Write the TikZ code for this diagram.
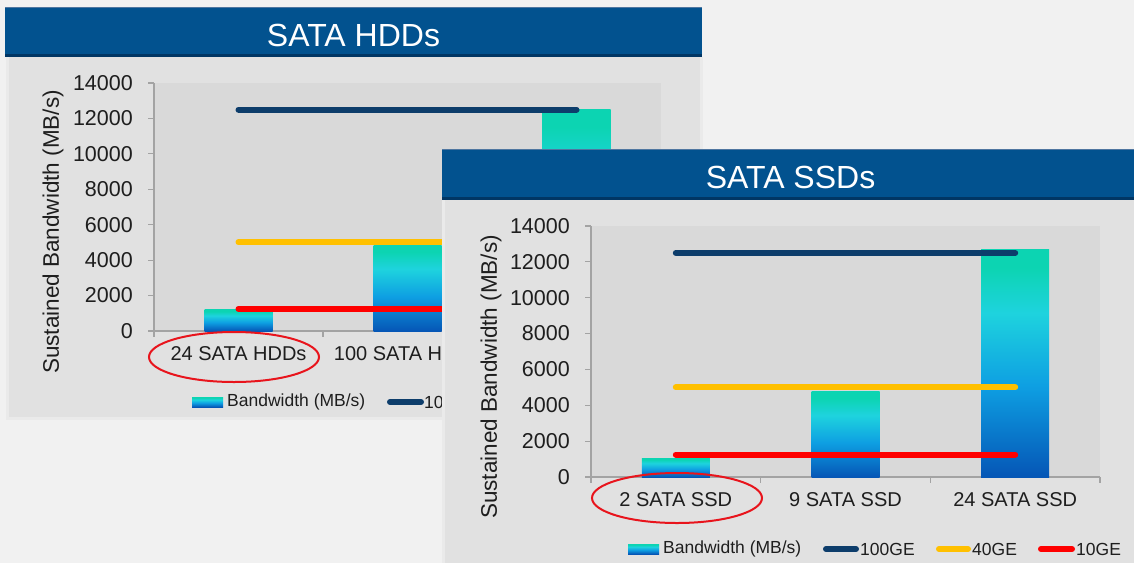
\documentclass[tikz,border=0pt]{standalone}
\usepackage{fontspec}
\setmainfont{Liberation Sans}

\definecolor{pagebg}{HTML}{F1F1F1}
\definecolor{panelbg}{HTML}{E1E1E1}
\definecolor{panelrim}{HTML}{EAEAEA}
\definecolor{plotbg}{HTML}{D9D9D9}
\definecolor{headblue}{HTML}{02528F}
\definecolor{headdark}{HTML}{013664}
\definecolor{headtop}{HTML}{4F76A0}
\definecolor{axisgray}{HTML}{A3A3A3}
\definecolor{txt}{HTML}{1E1E1E}
\definecolor{geA}{HTML}{0D3D6B}
\definecolor{geB}{HTML}{FFC000}
\definecolor{geC}{HTML}{FF0000}
\definecolor{barteal}{HTML}{0CD4B2}
\definecolor{barcyan}{HTML}{1ED3DE}
\definecolor{barmid}{HTML}{0E9FE2}
\definecolor{barblue}{HTML}{0556B6}
\definecolor{ringred}{HTML}{E8141C}

% bar gradient: deep blue at the foot, cyan, then teal at the top
\pgfdeclareverticalshading{bwbar}{100bp}{color(0bp)=(barblue); color(25bp)=(barblue); color(45bp)=(barmid); color(61bp)=(barcyan); color(71bp)=(barteal); color(100bp)=(barteal)}

\begin{document}
\begin{tikzpicture}[x=1pt, y=-1pt,
  every node/.style={inner sep=0pt, text=txt},
  ticklabel/.style={font=\fontsize{21.5}{26}\selectfont, anchor=east},
  catlabel/.style={font=\fontsize{20}{24}\selectfont},
  axistitle/.style={font=\fontsize{22.5}{27}\selectfont, rotate=90},
  legendtext/.style={font=\fontsize{17.5}{21}\selectfont, anchor=west},
  headtext/.style={font=\fontsize{32}{38}\selectfont, text=white},
  barfill/.style={shading=bwbar},
  axisline/.style={draw=axisgray, line width=1.2pt},
  geline/.style={line width=6pt, line cap=round},
  ring/.style={draw=ringred, line width=2pt},
]
\useasboundingbox (0,0) rectangle (1134,563);
\fill[pagebg] (0,0) rectangle (1134,563);

% ---------------- SATA HDDs panel ----------------
\fill[panelrim] (6,57) rectangle (703,420);
\fill[panelbg] (9,57) rectangle (700,417);
\fill[headblue] (5,7) rectangle (702,57);
\fill[headdark] (5,54) rectangle (702,57);
\draw[headtop, line width=1pt] (5,7.5) -- (702,7.5);
\node[headtext] (hddhead) at (353.5,35) {SATA HDDs};

\begin{scope}[shift={(154,331)}, x=1pt, y=0.017714pt]
  \fill[plotbg] (0,0) rectangle (507,14000);
  \draw[axisline] (0,0) -- (0,14000);
  \draw[axisline] (0,0) -- (507,0);
  \foreach \v in {0,2000,...,14000} {
    \draw[axisline] (-6,\v) -- (0,\v);
    \node[ticklabel] (hddtick\v) at (-21,\v) {\v};
  }
  \foreach \c in {0,169,338,507}
    \draw[axisline] (\c,0) -- ++(0pt,-6pt);
  \node[catlabel, yshift=-23pt] (hddcat1) at (84.5,0) {24 SATA HDDs};
  \node[catlabel, yshift=-23pt] (hddcat2) at (253.5,0) {100 SATA HDDs};
  \shade[barfill] (50.5,0) rectangle (118.5,1200);
  \shade[barfill] (219.5,0) rectangle (287.5,4850);
  \shade[barfill] (388.5,0) rectangle (456.5,12500);
  \draw[geline, geA] (84.5,12500) -- (422.5,12500);
  \draw[geline, geB] (84.5,5000) -- (422.5,5000);
  \draw[geline, geC] (84.5,1250) -- (422.5,1250);
\end{scope}
\node[axistitle] (hddtitle) at (53,232) {Sustained Bandwidth (MB/s)};
\draw[ring] (234,357) ellipse [x radius=85, y radius=25];

\shade[barfill] (192,397) rectangle (223,407);
\node[legendtext] (hddlegbw) at (227,402) {Bandwidth (MB/s)};
\draw[geline, geA] (390,402) -- (421,402);
\node[legendtext] (hddleg100) at (424,402) {100GE};

% ---------------- SATA SSDs panel ----------------
\fill[panelrim] (442,200) rectangle (1134,563);
\fill[panelbg] (445,200) rectangle (1134,563);
\fill[headblue] (442,149) rectangle (1134,200);
\fill[headdark] (442,197) rectangle (1134,200);
\draw[headtop, line width=1pt] (442,149.5) -- (1134,149.5);
\node[headtext] (ssdhead) at (790.5,177) {SATA SSDs};

\begin{scope}[shift={(591,477)}, x=1pt, y=0.017929pt]
  \fill[plotbg] (0,0) rectangle (509,14000);
  \draw[axisline] (0,0) -- (0,14000);
  \draw[axisline] (0,0) -- (509,0);
  \foreach \v in {0,2000,...,14000} {
    \draw[axisline] (-6,\v) -- (0,\v);
    \node[ticklabel] (ssdtick\v) at (-21,\v) {\v};
  }
  \foreach \c in {0,169.7,339.3,509}
    \draw[axisline] (\c,0) -- ++(0pt,-6pt);
  \node[catlabel, yshift=-23pt] (ssdcat1) at (84.8,0) {2 SATA SSD};
  \node[catlabel, yshift=-23pt] (ssdcat2) at (254.5,0) {9 SATA SSD};
  \node[catlabel, yshift=-23pt] (ssdcat3) at (424.2,0) {24 SATA SSD};
  \shade[barfill] (50.8,0) rectangle (118.8,1060);
  \shade[barfill] (220.5,0) rectangle (288.5,4780);
  \shade[barfill] (390.2,0) rectangle (458.2,12700);
  \draw[geline, geA] (84.8,12500) -- (424.2,12500);
  \draw[geline, geB] (84.8,5000) -- (424.2,5000);
  \draw[geline, geC] (84.8,1250) -- (424.2,1250);
\end{scope}
\node[axistitle] (ssdtitle) at (491,377) {Sustained Bandwidth (MB/s)};
\draw[ring] (677,498) ellipse [x radius=85, y radius=25];

\shade[barfill] (628,544) rectangle (659,554);
\node[legendtext] (ssdlegbw) at (663,549) {Bandwidth (MB/s)};
\draw[geline, geA] (826,549) -- (856,549);
\node[legendtext] (ssdleg100) at (860,549) {100GE};
\draw[geline, geB] (939,549) -- (968,549);
\node[legendtext] (ssdleg40) at (972,549) {40GE};
\draw[geline, geC] (1041,549) -- (1072,549);
\node[legendtext] (ssdleg10) at (1076,549) {10GE};
\end{tikzpicture}
\end{document}
